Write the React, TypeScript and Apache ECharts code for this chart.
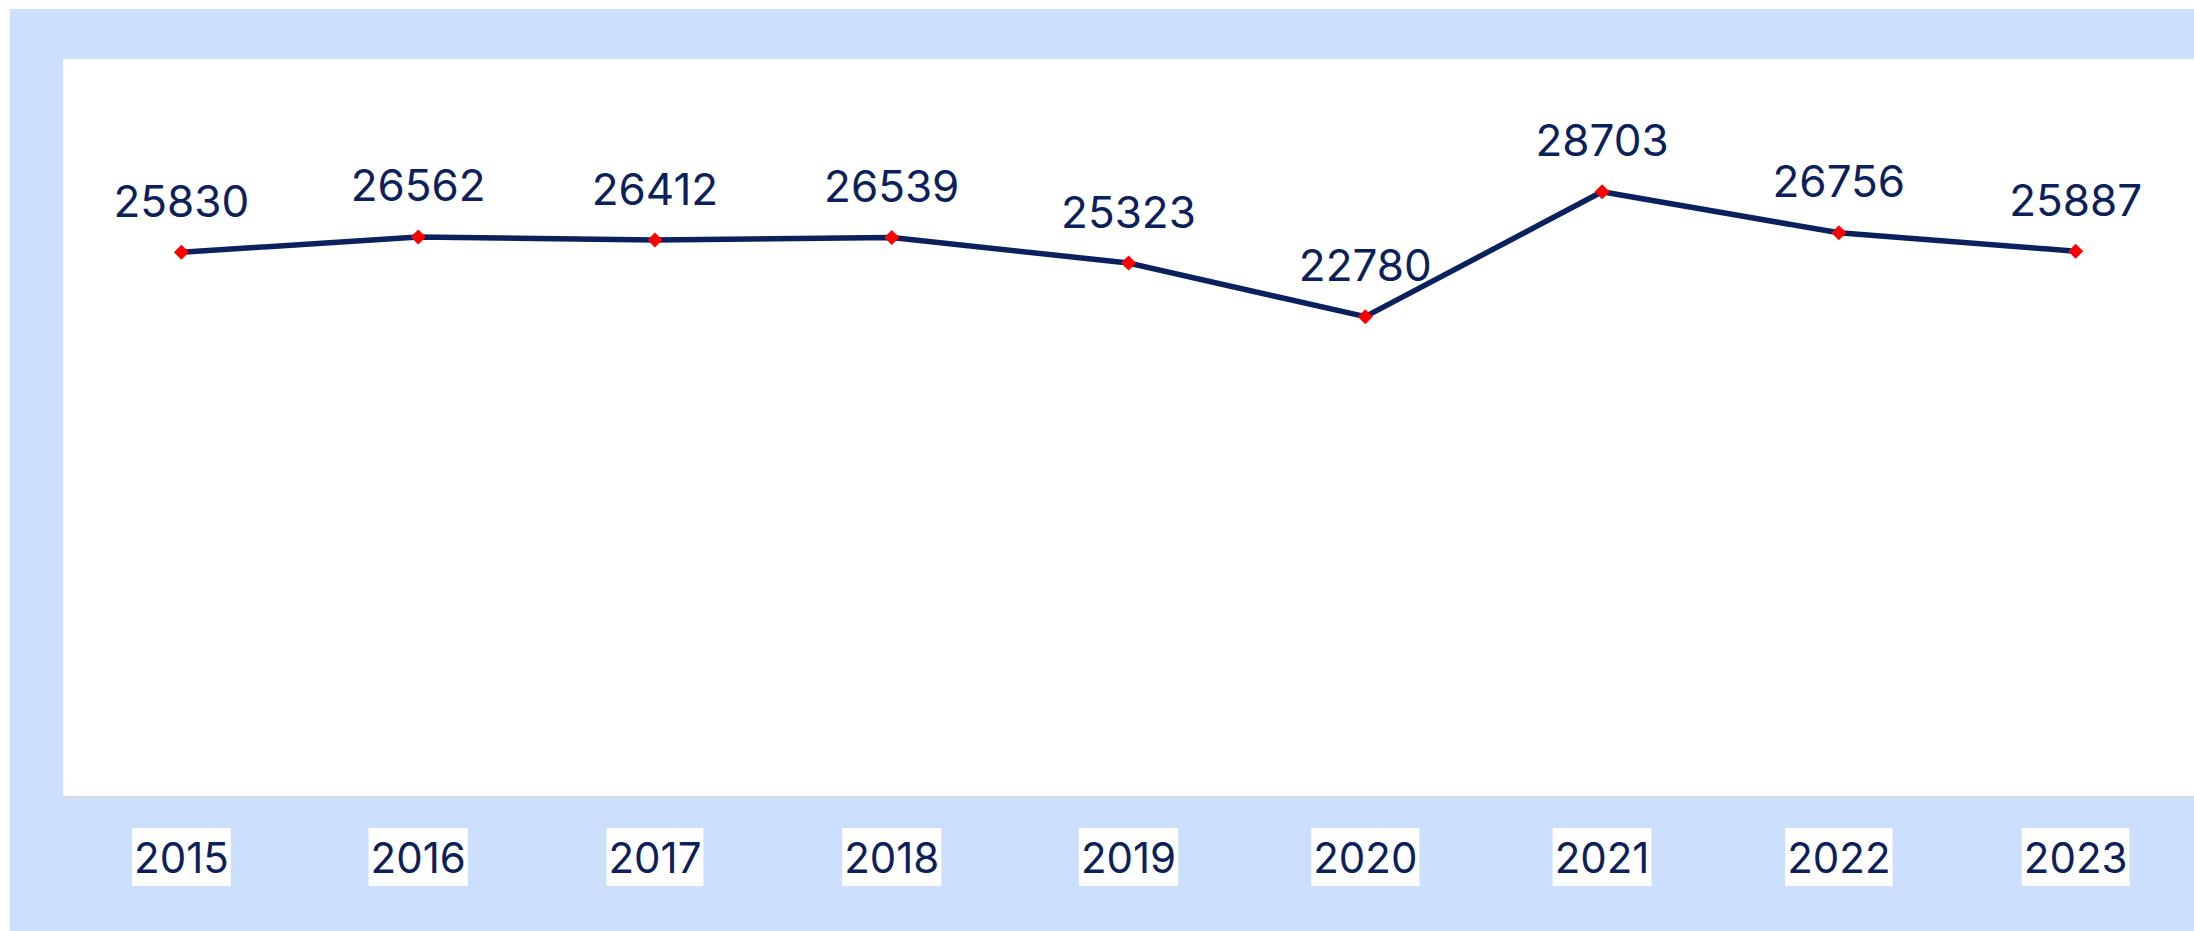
import React, { useEffect, useRef } from "react";
import * as echarts from "echarts";

const years = ["2015", "2016", "2017", "2018", "2019", "2020", "2021", "2022", "2023"];
const values = [25830, 26562, 26412, 26539, 25323, 22780, 28703, 26756, 25887];

const NAVY = "#0a215e";
const FONT = "Inter, 'Noto Sans', sans-serif";

export default function App() {
  const ref = useRef<HTMLDivElement>(null);
  useEffect(() => {
    if (!ref.current) return;
    const chart = echarts.init(ref.current, null, { renderer: "svg" });
    chart.setOption({
      animation: false,
      backgroundColor: "#cce0fd",
      grid: {
        left: 53,
        top: 50,
        right: 0,
        bottom: 134,
        show: true,
        backgroundColor: "#ffffff",
        borderWidth: 0,
      },
      xAxis: {
        type: "category",
        data: years,
        boundaryGap: true,
        axisLine: { show: true, lineStyle: { color: "#d9d9d9", width: 2 } },
        axisTick: { show: false },
        axisLabel: {
          margin: 31,
          fontSize: 42,
          fontFamily: FONT,
          color: NAVY,
          backgroundColor: "#ffffff",
          padding: [4, 2, 4, 2],
          lineHeight: 50,
        },
        splitLine: { show: false },
      },
      yAxis: {
        type: "value",
        min: 0,
        max: 35000,
        show: false,
        splitLine: { show: false },
      },
      series: [
        {
          type: "line",
          data: values,
          symbol: "diamond",
          symbolSize: 15,
          itemStyle: { color: "#ff0000" },
          lineStyle: { color: NAVY, width: 5.5 },
          label: {
            show: true,
            position: "top",
            distance: 22,
            fontSize: 44,
            fontFamily: FONT,
            color: NAVY,
          },
        },
      ],
    });
    return () => chart.dispose();
  }, []);
  return (
    <div
      ref={ref}
      style={{ position: "fixed", left: 10, top: 9, width: 2184, height: 922 }}
    />
  );
}
